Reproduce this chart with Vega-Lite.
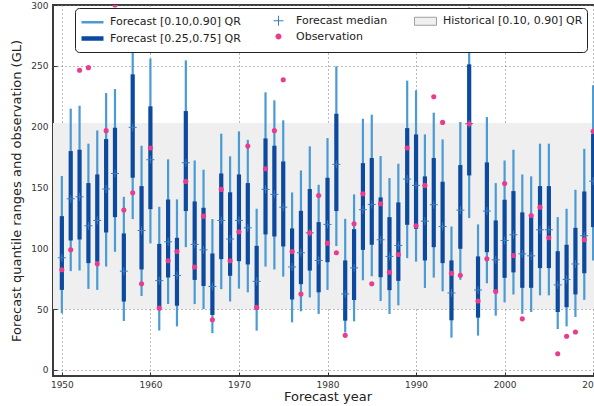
{
  "$schema": "https://vega.github.io/schema/vega-lite/v6.json",
  "width": 549,
  "height": 371,
  "autosize": "none",
  "padding": {"left": 53, "top": 5, "right": 0, "bottom": 30},
  "config": {
    "font": "DejaVu Sans",
    "view": {"stroke": "#3c3c3c", "strokeWidth": 2},
    "axis": {
      "grid": true, "gridColor": "#777777", "gridDash": [1, 3], "gridWidth": 1,
      "domain": false, "ticks": true, "tickColor": "#333333", "tickSize": -4,
      "labelFontSize": 9, "labelColor": "#333333", "labelFont": "DejaVu Sans",
      "titleFontSize": 13, "titleFontWeight": "normal", "titleColor": "#222222", "titleFont": "DejaVu Sans",
      "zindex": 1
    },
    "axisX": {"labelPadding": 8, "titlePadding": 1},
    "axisY": {"labelPadding": 9, "titlePadding": 7},
    "legend": {
      "title": null, "orient": "none", "legendX": 22, "legendY": 3,
      "direction": "horizontal", "columns": 3, "gridAlign": "each",
      "padding": 4, "rowPadding": -2, "columnPadding": 24,
      "symbolSize": 256, "labelOffset": 10, "labelFontSize": 11, "labelFont": "DejaVu Sans", "labelColor": "#222222", "labelLimit": 400,
      "fillColor": "white", "strokeColor": "#222222", "cornerRadius": 4, "zindex": 2
    }
  },
  "datasets": {
    "hist": [{"lo": 50, "hi": 203}],
    "leg": [
      {"series": "Forecast [0.10,0.90] QR"},
      {"series": "Forecast median"},
      {"series": "Historical [0.10, 0.90] QR"},
      {"series": "Forecast [0.25,0.75] QR"},
      {"series": "Observation"}
    ],
    "fc": [
      {"year": 1950, "q10": 46.6, "q25": 65.8, "med": 92.2, "q75": 126.4, "q90": 159.4, "obs": 82.3},
      {"year": 1951, "q10": 81.2, "q25": 106.4, "med": 140.7, "q75": 179.9, "q90": 214.8, "obs": 98.7},
      {"year": 1952, "q10": 81.7, "q25": 107.2, "med": 142.3, "q75": 181.0, "q90": 217.2, "obs": 246.3},
      {"year": 1953, "q10": 66.6, "q25": 87.8, "med": 118.5, "q75": 153.6, "q90": 186.0, "obs": 248.5},
      {"year": 1954, "q10": 65.8, "q25": 88.9, "med": 122.9, "q75": 160.7, "q90": 196.9, "obs": 87.2},
      {"year": 1955, "q10": 85.0, "q25": 113.0, "med": 148.7, "q75": 189.8, "q90": 227.6, "obs": 196.7},
      {"year": 1956, "q10": 97.1, "q25": 125.6, "med": 161.5, "q75": 199.1, "q90": 230.9, "obs": 300},
      {"year": 1957, "q10": 40.2, "q25": 56.2, "med": 81.2, "q75": 112.2, "q90": 142.3, "obs": 131.4},
      {"year": 1958, "q10": 124.0, "q25": 158.0, "med": 199.4, "q75": 243.0, "q90": 272, "obs": 145.6},
      {"year": 1959, "q10": 60.8, "q25": 82.6, "med": 114.6, "q75": 151.1, "q90": 184.3, "obs": 70.9},
      {"year": 1960, "q10": 104.0, "q25": 132.2, "med": 172.8, "q75": 216.7, "q90": 255.9, "obs": 182.4},
      {"year": 1961, "q10": 32.4, "q25": 51.0, "med": 73.4, "q75": 103.6, "q90": 134.1, "obs": 50.8},
      {"year": 1962, "q10": 54.2, "q25": 76.0, "med": 105.3, "q75": 140.1, "q90": 173.1, "obs": 89.7},
      {"year": 1963, "q10": 35.8, "q25": 52.8, "med": 77.6, "q75": 108.6, "q90": 140.2, "obs": 97.4},
      {"year": 1964, "q10": 100.9, "q25": 130.6, "med": 170.3, "q75": 212.8, "q90": 254.5, "obs": 155.0},
      {"year": 1965, "q10": 54.1, "q25": 74.0, "med": 103.2, "q75": 138.5, "q90": 172.2, "obs": 84.6},
      {"year": 1966, "q10": 50.0, "q25": 69.0, "med": 98.7, "q75": 133.3, "q90": 164.6, "obs": 126.4},
      {"year": 1967, "q10": 30.2, "q25": 45.2, "med": 68.6, "q75": 95.7, "q90": 124.0, "obs": 41.2},
      {"year": 1968, "q10": 66.4, "q25": 91.1, "med": 122.9, "q75": 161.5, "q90": 194.2, "obs": 148.4},
      {"year": 1969, "q10": 56.3, "q25": 77.4, "med": 107.6, "q75": 146.0, "q90": 175.6, "obs": 89.8},
      {"year": 1970, "q10": 66.8, "q25": 89.4, "med": 122.9, "q75": 160.7, "q90": 196.1, "obs": 113.5},
      {"year": 1971, "q10": 63.8, "q25": 86.7, "med": 116.8, "q75": 153.6, "q90": 189.2, "obs": 184.0},
      {"year": 1972, "q10": 32.3, "q25": 49.7, "med": 72.8, "q75": 102.0, "q90": 132.5, "obs": 51.4},
      {"year": 1973, "q10": 84.9, "q25": 111.4, "med": 148.4, "q75": 190.3, "q90": 228.2, "obs": 165.4},
      {"year": 1974, "q10": 82.6, "q25": 109.7, "med": 144.3, "q75": 184.3, "q90": 221.6, "obs": 196.7},
      {"year": 1975, "q10": 76.7, "q25": 101.5, "med": 133.8, "q75": 171.4, "q90": 205.2, "obs": 238.6},
      {"year": 1976, "q10": 39.1, "q25": 57.9, "med": 84.6, "q75": 116.3, "q90": 145.9, "obs": 97.4},
      {"year": 1977, "q10": 48.2, "q25": 70.5, "med": 96.3, "q75": 130.8, "q90": 164.0, "obs": 62.4},
      {"year": 1978, "q10": 59.6, "q25": 81.7, "med": 112.7, "q75": 148.7, "q90": 183.8, "obs": 112.7},
      {"year": 1979, "q10": 46.0, "q25": 63.8, "med": 90.0, "q75": 121.5, "q90": 152.2, "obs": 143.4},
      {"year": 1980, "q10": 65.8, "q25": 88.6, "med": 119.6, "q75": 158.0, "q90": 190.6, "obs": 104.2},
      {"year": 1981, "q10": 101.8, "q25": 130.6, "med": 169.0, "q75": 210.6, "q90": 249.6, "obs": 96.3},
      {"year": 1982, "q10": 30.8, "q25": 40.5, "med": 62.5, "q75": 90.0, "q90": 124.2, "obs": 28.4},
      {"year": 1983, "q10": 39.9, "q25": 57.5, "med": 83.9, "q75": 115.7, "q90": 144.3, "obs": 120.1},
      {"year": 1984, "q10": 73.7, "q25": 98.7, "med": 131.7, "q75": 170.0, "q90": 206.5, "obs": 144.8},
      {"year": 1985, "q10": 77.0, "q25": 102.9, "med": 136.0, "q75": 174.2, "q90": 209.8, "obs": 70.9},
      {"year": 1986, "q10": 56.6, "q25": 76.2, "med": 107.0, "q75": 141.8, "q90": 175.8, "obs": 136.6},
      {"year": 1987, "q10": 46.0, "q25": 65.6, "med": 93.3, "q75": 125.6, "q90": 157.7, "obs": 80.3},
      {"year": 1988, "q10": 53.1, "q25": 73.2, "med": 102.3, "q75": 137.7, "q90": 169.5, "obs": 94.9},
      {"year": 1989, "q10": 91.9, "q25": 119.3, "med": 156.9, "q75": 198.8, "q90": 237.8, "obs": 182.4},
      {"year": 1990, "q10": 89.0, "q25": 116.0, "med": 151.7, "q75": 193.6, "q90": 229.8, "obs": 118.5},
      {"year": 1991, "q10": 67.4, "q25": 90.0, "med": 122.3, "q75": 159.1, "q90": 193.6, "obs": 151.7},
      {"year": 1992, "q10": 75.9, "q25": 100.9, "med": 135.8, "q75": 174.2, "q90": 211.5, "obs": 224.6},
      {"year": 1993, "q10": 64.6, "q25": 87.8, "med": 117.9, "q75": 154.7, "q90": 189.5, "obs": 203.5},
      {"year": 1994, "q10": 26.5, "q25": 40.8, "med": 63.3, "q75": 90.0, "q90": 117.9, "obs": 79.4},
      {"year": 1995, "q10": 74.1, "q25": 99.6, "med": 131.4, "q75": 168.4, "q90": 203.8, "obs": 77.8},
      {"year": 1996, "q10": 124.8, "q25": 159.9, "med": 202.4, "q75": 251.2, "q90": 298, "obs": 202.4},
      {"year": 1997, "q10": 28.2, "q25": 43.0, "med": 65.7, "q75": 93.3, "q90": 119.6, "obs": 56.6},
      {"year": 1998, "q10": 71.2, "q25": 96.8, "med": 130.6, "q75": 170.6, "q90": 207.9, "obs": 91.3},
      {"year": 1999, "q10": 44.6, "q25": 63.9, "med": 90.5, "q75": 122.9, "q90": 153.6, "obs": 64.4},
      {"year": 2000, "q10": 55.5, "q25": 75.7, "med": 106.4, "q75": 139.9, "q90": 172.2, "obs": 153.3},
      {"year": 2001, "q10": 62.0, "q25": 80.2, "med": 111.1, "q75": 147.0, "q90": 181.0, "obs": 94.1},
      {"year": 2002, "q10": 46.0, "q25": 67.5, "med": 95.4, "q75": 129.5, "q90": 160.7, "obs": 42.0},
      {"year": 2003, "q10": 47.6, "q25": 67.5, "med": 93.8, "q75": 126.4, "q90": 159.1, "obs": 127.0},
      {"year": 2004, "q10": 61.3, "q25": 83.7, "med": 115.2, "q75": 151.1, "q90": 186.0, "obs": 133.8},
      {"year": 2005, "q10": 61.3, "q25": 83.7, "med": 115.2, "q75": 151.1, "q90": 186.0, "obs": 108.6},
      {"year": 2006, "q10": 33.6, "q25": 47.6, "med": 69.9, "q75": 97.6, "q90": 125.6, "obs": 13.3},
      {"year": 2007, "q10": 35.8, "q25": 51.6, "med": 74.4, "q75": 102.9, "q90": 132.5, "obs": 27.7},
      {"year": 2008, "q10": 43.5, "q25": 62.1, "med": 87.1, "q75": 116.8, "q90": 148.1, "obs": 31.2},
      {"year": 2009, "q10": 57.6, "q25": 79.5, "med": 110.3, "q75": 146.7, "q90": 181.8, "obs": 107.0},
      {"year": 2010, "q10": 90.0, "q25": 117.4, "med": 155.2, "q75": 194.2, "q90": 234.0, "obs": 196.2}
    ]
  },
  "layer": [
    {
      "data": {"name": "hist"},
      "mark": {"type": "rect", "color": "#efefef"},
      "encoding": {
        "y": {"field": "lo", "type": "quantitative", "title": "Forecast quantile ranges and observation (GL)", "scale": {"domain": [-5, 300], "nice": false, "zero": false}},
        "y2": {"field": "hi"}
      }
    },
    {
      "data": {"name": "fc"},
      "mark": {"type": "rule", "color": "#4a9ad5", "strokeWidth": 2.2},
      "encoding": {
        "x": {"field": "year", "type": "quantitative", "title": "Forecast year", "scale": {"domain": [1949, 2011], "nice": false, "zero": false}, "axis": {"values": [1950, 1960, 1970, 1980, 1990, 2000, 2010], "format": "d"}},
        "y": {"field": "q10", "type": "quantitative", "title": "Forecast quantile ranges and observation (GL)", "scale": {"domain": [-5, 300], "nice": false, "zero": false}, "axis": {"values": [0, 50, 100, 150, 200, 250, 300]}},
        "y2": {"field": "q90"}
      }
    },
    {
      "data": {"name": "fc"},
      "mark": {"type": "rule", "color": "#0b4a9e", "strokeWidth": 4.2},
      "encoding": {
        "x": {"field": "year", "type": "quantitative", "title": "Forecast year", "scale": {"domain": [1949, 2011], "nice": false, "zero": false}},
        "y": {"field": "q25", "type": "quantitative", "title": "Forecast quantile ranges and observation (GL)", "scale": {"domain": [-5, 300], "nice": false, "zero": false}},
        "y2": {"field": "q75"}
      }
    },
    {
      "data": {"name": "fc"},
      "mark": {"type": "point", "shape": "M-1,0H1M0,-1V1", "filled": false, "color": "#3b7dc4", "strokeWidth": 1, "size": 64, "opacity": 1},
      "encoding": {
        "x": {"field": "year", "type": "quantitative", "title": "Forecast year", "scale": {"domain": [1949, 2011], "nice": false, "zero": false}},
        "y": {"field": "med", "type": "quantitative", "title": "Forecast quantile ranges and observation (GL)", "scale": {"domain": [-5, 300], "nice": false, "zero": false}}
      }
    },
    {
      "data": {"name": "fc"},
      "mark": {"type": "circle", "color": "#eb3b8d", "size": 26, "opacity": 1, "clip": true},
      "encoding": {
        "x": {"field": "year", "type": "quantitative", "title": "Forecast year", "scale": {"domain": [1949, 2011], "nice": false, "zero": false}},
        "y": {"field": "obs", "type": "quantitative", "title": "Forecast quantile ranges and observation (GL)", "scale": {"domain": [-5, 300], "nice": false, "zero": false}}
      }
    },
    {
      "data": {"name": "leg"},
      "mark": {"type": "point", "opacity": 1},
      "encoding": {
        "x": {"field": "year", "type": "quantitative", "title": "Forecast year", "scale": {"domain": [1949, 2011], "nice": false, "zero": false}},
        "shape": {
          "field": "series", "type": "nominal",
          "scale": {
            "domain": ["Forecast [0.10,0.90] QR", "Forecast median", "Historical [0.10, 0.90] QR", "Forecast [0.25,0.75] QR", "Observation"],
            "range": ["M-1,0H1.75", "M-1,0M1.75,0M-0.25,0H1M0.375,-0.625V0.625", "M-1,-0.5H1.75V0.5H-1Z", "M-1,0H1.75", "M-1,0M1.75,0M0.75,0A0.375,0.375 0 1,1 0,0A0.375,0.375 0 1,1 0.75,0Z"]
          },
          "legend": {"symbolFillColor": "transparent", "symbolStrokeColor": "transparent"}
        },
        "fill": {
          "field": "series", "type": "nominal",
          "scale": {
            "domain": ["Forecast [0.10,0.90] QR", "Forecast median", "Historical [0.10, 0.90] QR", "Forecast [0.25,0.75] QR", "Observation"],
            "range": ["transparent", "transparent", "#efefef", "transparent", "#eb3b8d"]
          },
          "legend": {"symbolFillColor": "transparent", "symbolStrokeColor": "transparent"}
        },
        "stroke": {
          "field": "series", "type": "nominal",
          "scale": {
            "domain": ["Forecast [0.10,0.90] QR", "Forecast median", "Historical [0.10, 0.90] QR", "Forecast [0.25,0.75] QR", "Observation"],
            "range": ["#4a9ad5", "#3b7dc4", "#a0a0a0", "#0b4a9e", "transparent"]
          },
          "legend": {"symbolFillColor": "transparent", "symbolStrokeColor": "transparent"}
        },
        "strokeWidth": {
          "field": "series", "type": "nominal",
          "scale": {
            "type": "ordinal",
            "domain": ["Forecast [0.10,0.90] QR", "Forecast median", "Historical [0.10, 0.90] QR", "Forecast [0.25,0.75] QR", "Observation"],
            "range": [2.5, 1, 1, 4.5, 1]
          },
          "legend": {"symbolFillColor": "transparent", "symbolStrokeColor": "transparent"}
        }
      }
    }
  ]
}
